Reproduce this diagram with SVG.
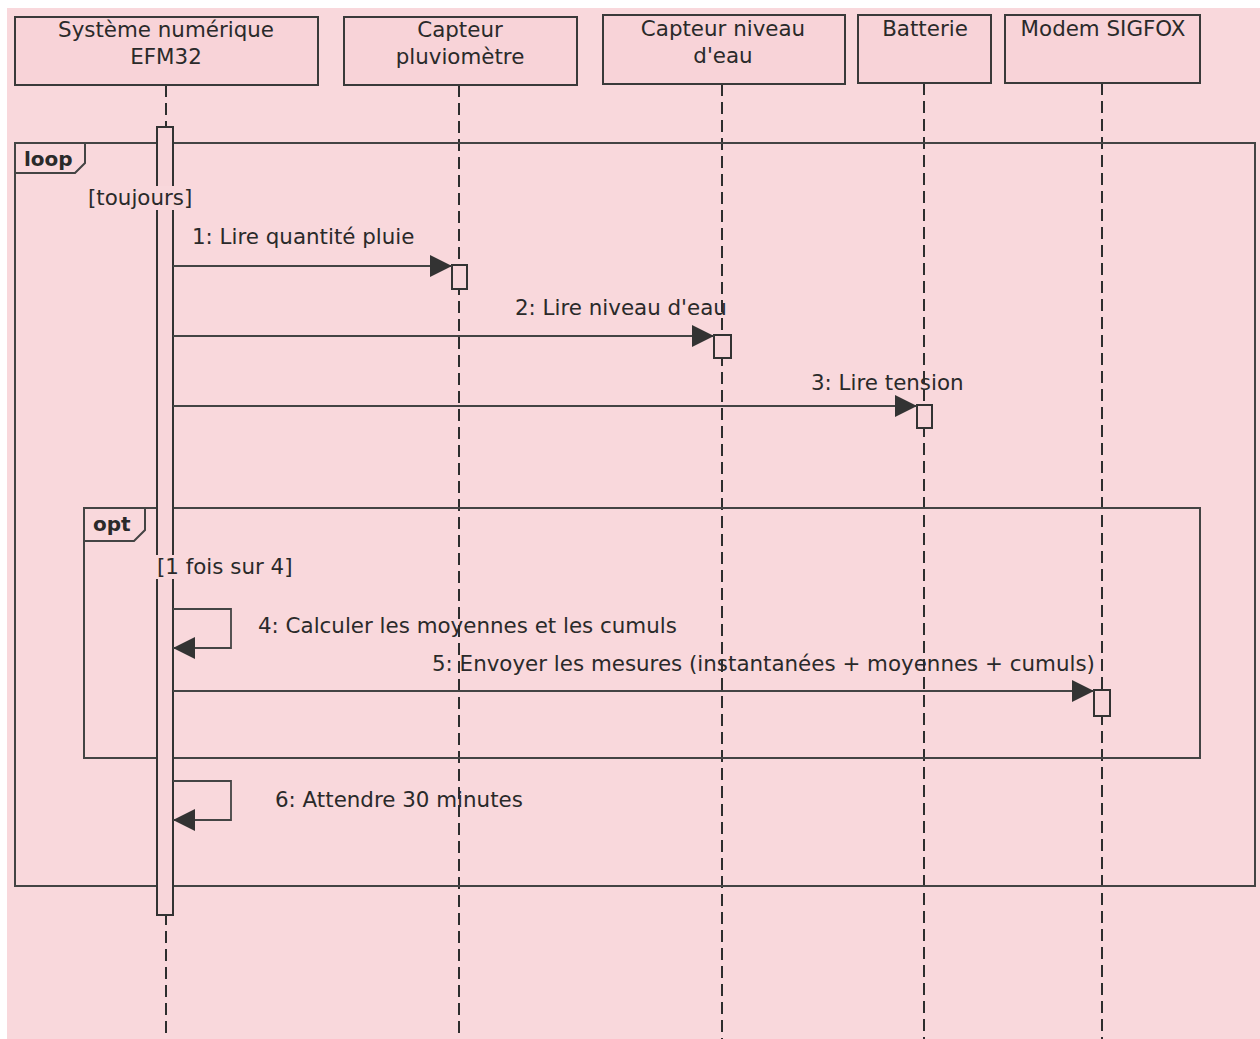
<svg xmlns="http://www.w3.org/2000/svg" width="1260" height="1039" viewBox="0 0 1260 1039">
<style>
.bg{fill:#f9d8dc}
.box{fill:#f8d3d8;stroke:#3a3a3a;stroke-width:2}
.frame{fill:none;stroke:#444;stroke-width:2}
.life{stroke:#2e2e2e;stroke-width:2;stroke-dasharray:12 6;fill:none}
.act{fill:#f8d6da;stroke:#333;stroke-width:2}
.msg{stroke:#444;stroke-width:1.8;fill:none}
.t{font-family:"DejaVu Sans","Liberation Sans",sans-serif;font-size:21.4px;fill:#2a2a2a}
.tc{text-anchor:middle}
.b{font-weight:bold;font-size:20px}
</style>
<defs>
<marker id="ah" viewBox="0 0 22 22" refX="22" refY="11" markerWidth="22" markerHeight="22" markerUnits="userSpaceOnUse" orient="auto">
<path d="M0,0 L22,11 L0,22 Z" fill="#333"/>
</marker>
</defs>
<rect width="1260" height="1039" fill="#ffffff"/>
<rect x="7" y="8" width="1253" height="1031" class="bg"/>

<g id="lifelines">
<line class="life" x1="166" y1="85" x2="166" y2="1039"/>
<line class="life" x1="459" y1="85" x2="459" y2="1039"/>
<line class="life" x1="722" y1="84" x2="722" y2="1039"/>
<line class="life" x1="924" y1="83" x2="924" y2="1039"/>
<line class="life" x1="1102" y1="83" x2="1102" y2="1039"/>
</g>

<g id="frames">
<rect class="frame" x="15" y="143" width="1240" height="743"/>
<path class="frame" d="M15,173 L75,173 L85,163 L85,143"/>
<text class="t b" x="24" y="166">loop</text>
<rect class="frame" x="84" y="508" width="1116" height="250"/>
<path class="frame" d="M84,541 L134,541 L145,530 L145,508"/>
<text class="t b" x="93" y="531">opt</text>
</g>

<g id="n1">
<rect class="box" x="15" y="17" width="303" height="68"/>
<text class="t tc" x="166" y="37">Système numérique</text>
<text class="t tc" x="166" y="64">EFM32</text>
</g>
<g id="n2">
<rect class="box" x="344" y="17" width="233" height="68"/>
<text class="t tc" x="460" y="37">Capteur</text>
<text class="t tc" x="460" y="64">pluviomètre</text>
</g>
<g id="n3">
<rect class="box" x="603" y="15" width="242" height="69"/>
<text class="t tc" x="723" y="36">Capteur niveau</text>
<text class="t tc" x="723" y="63">d'eau</text>
</g>
<g id="n4">
<rect class="box" x="858" y="15" width="133" height="68"/>
<text class="t tc" x="925" y="36">Batterie</text>
</g>
<g id="n5">
<rect class="box" x="1005" y="15" width="195" height="68"/>
<text class="t tc" x="1103" y="36">Modem SIGFOX</text>
</g>

<g id="activations">
<rect class="act" x="157" y="127" width="16" height="788"/>
<rect class="act" x="452" y="265" width="15" height="24"/>
<rect class="act" x="714" y="335" width="17" height="23"/>
<rect class="act" x="917" y="405" width="15" height="23"/>
<rect class="act" x="1094" y="690" width="16" height="26"/>
</g>

<g id="guards">
<rect class="bg" x="87" y="186" width="106" height="24"/>
<text class="t" x="88" y="205">[toujours]</text>
<rect class="bg" x="155" y="555" width="141" height="24"/>
<text class="t" x="157" y="574">[1 fois sur 4]</text>
</g>

<g id="connectors">
<line class="msg" x1="173" y1="266" x2="452" y2="266" marker-end="url(#ah)"/>
<text class="t" x="192" y="244">1: Lire quantité pluie</text>
<line class="msg" x1="173" y1="336" x2="714" y2="336" marker-end="url(#ah)"/>
<text class="t" x="515" y="315">2: Lire niveau d'eau</text>
<line class="msg" x1="173" y1="406" x2="917" y2="406" marker-end="url(#ah)"/>
<text class="t" x="811" y="390">3: Lire tension</text>
<path class="msg" d="M173,609 L231,609 L231,648 L173,648" marker-end="url(#ah)"/>
<text class="t" x="258" y="633">4: Calculer les moyennes et les cumuls</text>
<line class="msg" x1="173" y1="691" x2="1094" y2="691" marker-end="url(#ah)"/>
<text class="t" x="432" y="671">5: Envoyer les mesures (instantanées + moyennes + cumuls)</text>
<path class="msg" d="M173,781 L231,781 L231,820 L173,820" marker-end="url(#ah)"/>
<text class="t" x="275" y="807">6: Attendre 30 minutes</text>
</g>
</svg>
